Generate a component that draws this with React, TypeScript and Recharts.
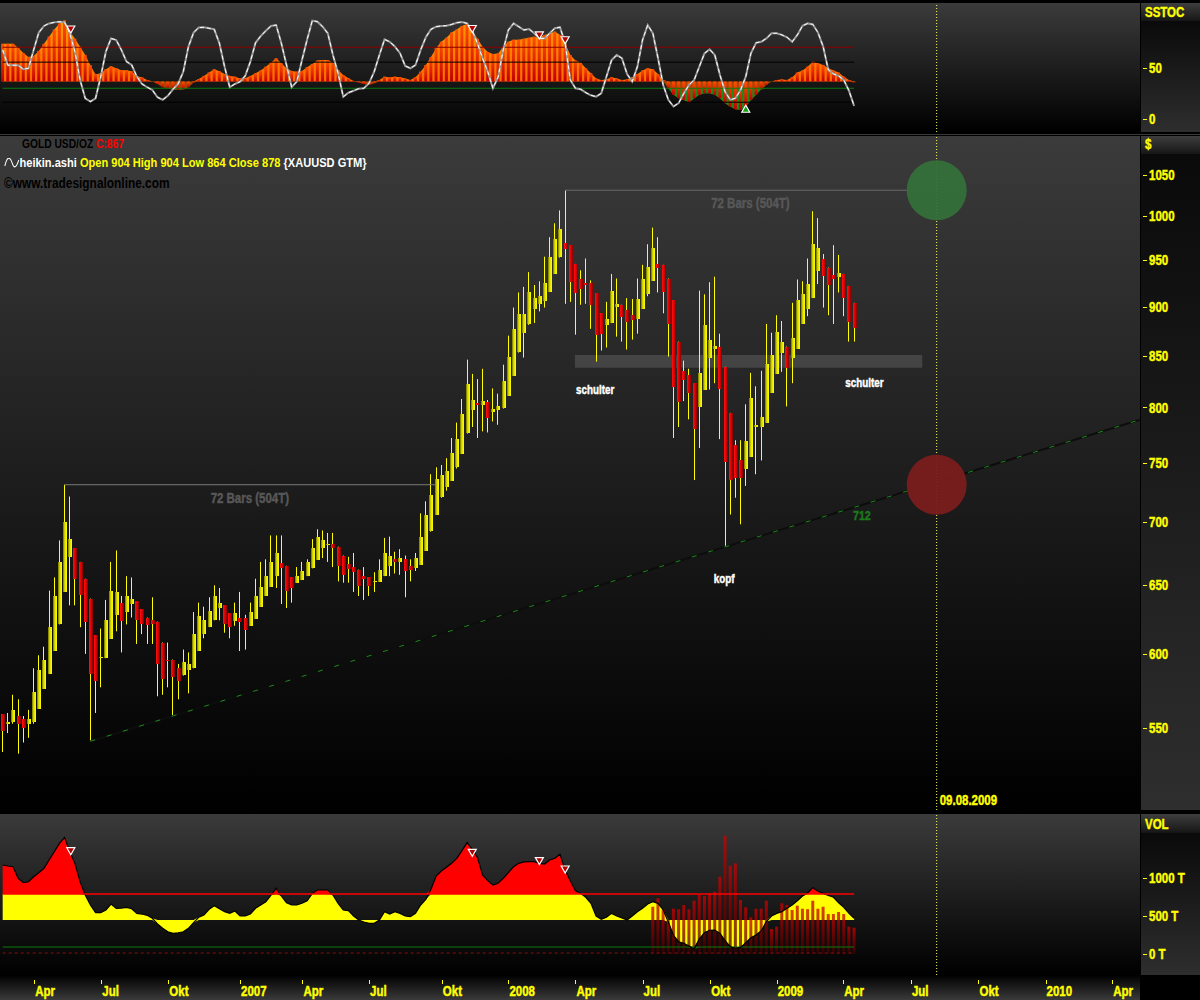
import React from 'react';
import {
  ComposedChart, Bar, Area, Line, XAxis, YAxis, ReferenceLine, ReferenceArea, ReferenceDot, Cell,
} from 'recharts';

// Arial-metric bold, squeezed horizontally to look like the narrow chart font
const FONT = "'Liberation Sans', Arial, sans-serif";
const SQ = 0.82;
const YEL = '#ffff00';

// weekly heikin-ashi candles, gold USD/oz, Feb 2006 - Apr 2009
const opens = [
  559, 553, 554, 558, 556, 553, 554, 563, 576, 586, 602, 621, 645, 672, 679, 668, 655, 640, 613, 597,
  597, 611, 628, 637, 630, 636, 638, 632, 626, 624, 623, 608, 596, 596, 590, 585, 589, 590, 602, 614,
  619, 624, 633, 635, 629, 623, 626, 626, 620, 625, 634, 642, 649, 657, 667, 665, 656, 652, 654, 657,
  663, 670, 679, 681, 682, 680, 673, 666, 664, 662, 657, 656, 652, 653, 657, 665, 670, 668, 670, 665,
  663, 666, 677, 692, 706, 720, 729, 735, 746, 758, 776, 798, 804, 802, 805, 796, 797, 799, 811, 830,
  853, 872, 881, 897, 903, 906, 916, 935, 953, 969, 967, 946, 930, 925, 925, 914, 893, 881, 883, 900,
  902, 896, 891, 887, 898, 914, 928, 946, 945, 930, 907, 864, 835, 831, 823, 801, 817, 848, 857, 859,
  839, 795, 766, 752, 744, 755, 782, 782, 786, 814, 832, 853, 859, 848, 857, 882, 897, 909, 938, 952,
  942, 934, 932, 935, 922, 904,
];
const highs = [
  559, 560, 572, 569, 558, 562, 590, 599, 605, 646, 656, 685, 731, 721, 679, 668, 655, 640, 613, 618,
  639, 668, 677, 642, 657, 656, 638, 632, 626, 641, 623, 608, 608, 596, 593, 603, 601, 630, 637, 634,
  641, 650, 648, 635, 629, 637, 645, 628, 637, 655, 668, 670, 689, 689, 689, 665, 656, 664, 668, 670,
  686, 694, 693, 691, 691, 680, 673, 672, 675, 662, 664, 656, 660, 670, 687, 688, 676, 678, 673, 670,
  675, 707, 717, 740, 746, 748, 754, 772, 786, 808, 846, 832, 827, 837, 807, 818, 813, 841, 870, 899,
  915, 921, 937, 923, 927, 954, 976, 992, 1007, 1031, 967, 946, 939, 952, 928, 914, 893, 905, 935, 930,
  902, 909, 908, 930, 945, 968, 987, 976, 945, 930, 907, 864, 845, 837, 823, 917, 913, 926, 932, 872,
  839, 795, 770, 770, 803, 833, 820, 835, 882, 873, 891, 885, 859, 904, 929, 927, 952, 1006, 998, 957,
  942, 967, 956, 935, 922, 904,
];
const lows = [
  535, 547, 553, 534, 541, 544, 553, 563, 576, 586, 602, 621, 645, 635, 635, 619, 600, 542, 560, 577,
  597, 611, 616, 601, 621, 626, 607, 614, 607, 607, 571, 572, 577, 558, 569, 585, 573, 590, 602, 611,
  619, 624, 624, 615, 611, 620, 602, 603, 620, 625, 634, 642, 649, 648, 636, 633, 637, 652, 654, 657,
  663, 670, 671, 668, 664, 653, 652, 652, 645, 642, 639, 642, 645, 653, 657, 657, 659, 658, 641, 653,
  661, 666, 677, 692, 706, 720, 726, 735, 745, 758, 776, 782, 772, 778, 777, 787, 784, 799, 811, 830,
  853, 848, 881, 883, 895, 899, 916, 935, 953, 903, 905, 871, 902, 903, 877, 844, 855, 858, 883, 869,
  864, 856, 866, 872, 898, 911, 928, 915, 893, 849, 772, 782, 806, 789, 735, 763, 817, 817, 823, 771,
  680, 706, 720, 698, 730, 755, 740, 752, 786, 814, 832, 834, 801, 823, 857, 882, 890, 909, 924, 899,
  891, 882, 915, 890, 864, 864,
];
const closes = [
  548, 554, 562, 553, 550, 556, 574, 589, 596, 619, 642, 668, 700, 686, 655, 643, 623, 586, 581, 598,
  624, 646, 645, 624, 642, 640, 624, 621, 621, 621, 593, 583, 595, 584, 581, 594, 593, 614, 627, 624,
  631, 642, 637, 621, 619, 629, 623, 617, 630, 642, 649, 657, 668, 675, 663, 646, 648, 657, 661, 668,
  679, 688, 685, 682, 679, 665, 658, 662, 660, 650, 655, 649, 653, 662, 675, 673, 668, 671, 661, 662,
  671, 688, 706, 722, 736, 739, 743, 759, 771, 794, 822, 807, 802, 806, 790, 799, 801, 825, 849, 877,
  892, 892, 915, 909, 911, 925, 954, 974, 985, 962, 926, 914, 919, 923, 902, 870, 871, 887, 917, 903,
  889, 884, 886, 908, 930, 943, 964, 942, 916, 882, 819, 806, 826, 814, 780, 833, 881, 866, 860, 818,
  751, 735, 737, 736, 769, 809, 784, 791, 842, 851, 874, 864, 838, 868, 907, 913, 924, 968, 964, 933,
  924, 930, 936, 909, 884, 878,
];

// SSTOC panel
const sstocHist = [
  74, 74, 74, 70, 65, 61, 62, 67, 74, 81, 88, 94, 97, 86, 79, 71, 63, 53, 44, 45,
  49, 52, 50, 48, 48, 47, 42.5, 41, 38.5, 37.3, 34.6, 31.4, 30.4, 29.4, 28.7, 29.4, 31.4, 36, 39.5, 42.5,
  45.8, 49, 47, 44.3, 42.5, 41.8, 39.9, 40.2, 42.5, 45, 47.8, 51.6, 55.6, 59.8, 54.9, 50, 47.4, 46.7, 47.4, 51,
  54.2, 57.5, 58, 58, 55.6, 48.4, 43.4, 40.2, 37.6, 36, 34.6, 33.6, 35.3, 38.5, 41.8, 41, 41.8, 41.2, 39.9, 38.5,
  41.2, 46.7, 53.2, 61, 69.6, 76, 80, 85, 88, 91.5, 93.5, 87, 79, 71, 66, 64, 64.6, 71, 76, 78,
  78, 79, 80, 81, 80, 82.7, 84, 86, 82.7, 74.5, 63, 57.5, 55.6, 50, 45, 40, 38.5, 39, 41.2, 40,
  38.5, 39, 41.2, 44.3, 47.8, 50, 49, 44.3, 38.5, 30.4, 24, 20.7, 19, 16.4, 20.7, 24, 25.6, 25.6, 24, 20.7,
  15.8, 12.5, 9.9, 9.2, 12.5, 19, 24, 29.4, 33.6, 36.9, 38.5, 39, 38.5, 41.2, 45.8, 47.8, 51.6, 56.5, 54.9, 53.2,
  50, 47.8, 45.8, 41.8, 38.5, 36,
];
const sstocLine = [
  68, 53, 53, 53, 49, 50, 68, 85, 91.5, 94, 95, 95.7, 95, 84.3, 66.3, 38.5, 20.5, 17.3, 20.5, 41.8,
  66.3, 79.3, 77.7, 68, 56.5, 53.2, 41.8, 34.6, 31.4, 28.7, 21.6, 19, 22.9, 29.4, 34.6, 46.7, 71.3, 85, 89.9, 90.2,
  89.2, 88.2, 74.5, 51.6, 31.4, 34.6, 36.9, 42.5, 56.5, 75, 81.6, 86.8, 91.5, 92.4, 74.5, 53.2, 31.4, 36.9, 58, 78.3,
  96.7, 95.7, 90.8, 84.3, 63, 45, 22, 26, 28, 30, 30.4, 35.3, 46.7, 63, 78.3, 76, 71.3, 64.8, 52.3, 50,
  53.2, 68, 80.4, 88.2, 90.8, 91.5, 91.8, 93, 94.7, 95.3, 94, 86.9, 74.5, 59.8, 46.7, 30.4, 41.2, 68, 87.5, 94,
  90.8, 87.5, 88.5, 84.3, 79.3, 79.3, 84.3, 89.2, 90.2, 74.5, 38.5, 30.4, 29.4, 26.1, 23.5, 22.2, 25.4, 41.8, 58, 63,
  59.8, 44.3, 36.9, 51.6, 77.7, 92.4, 84.3, 59.8, 33.6, 19, 12.5, 15.8, 25.4, 33.6, 38.5, 51.6, 64.6, 68.6, 63, 43.4,
  27, 19, 20.6, 28.7, 41.8, 64.6, 75, 76, 79.3, 84.3, 84.3, 82.7, 80.4, 76, 82.7, 91.6, 94, 93, 85, 71.3,
  48.4, 44.5, 42.5, 38.5, 28, 13,
];

// VOL panel (thousands)
const volOsc = [
  1171, 1158, 1149, 996, 938, 951, 1017, 1070, 1127, 1237, 1346, 1456, 1535, 1346, 1193, 951, 776, 645, 544, 544,
  579, 658, 601, 605, 614, 596, 535, 526, 509, 470, 395, 338, 293, 272, 280, 293, 338, 412, 483, 513,
  588, 636, 596, 557, 535, 566, 500, 500, 526, 601, 645, 688, 776, 864, 763, 675, 645, 645, 667, 701,
  798, 842, 842, 842, 776, 667, 579, 570, 500, 447, 421, 404, 404, 447, 557, 526, 557, 535, 500, 491,
  535, 645, 720, 851, 1026, 1092, 1141, 1193, 1259, 1360, 1465, 1377, 1272, 1039, 965, 908, 930, 996, 1070, 1149,
  1193, 1211, 1215, 1215, 1193, 1184, 1237, 1259, 1312, 1105, 965, 833, 798, 746, 667, 500, 456, 483, 535, 500,
  474, 447, 500, 557, 601, 658, 688, 667, 579, 421, 246, 162, 141, 105, 62, 201, 280, 312, 316, 272,
  175, 96, 75, 88, 149, 214, 250, 307, 425, 500, 535, 557, 601, 645, 701, 763, 807, 873, 825, 798,
  772, 746, 675, 614, 535, 470,
];
const volBarsStart = 126;
const volBars = [
  622, 733, 579, 447, 596, 588, 645, 588, 701, 776, 763, 798, 820, 1017, 1557, 1162, 1193, 711, 614, 483,
  596, 596, 701, 329, 360, 667, 645, 579, 636, 596, 590, 701, 596, 622, 526, 526, 553, 526, 360, 346,
];

const tickWeeks = [6.1, 19.1, 32.1, 46, 58.1, 71, 85.1, 98, 111, 124, 137.1, 150, 162.9, 176, 189.1, 202.1, 215];
const tickLabels = ['Apr', 'Jul', 'Okt', '2007', 'Apr', 'Jul', 'Okt', '2008', 'Apr', 'Jul', 'Okt', '2009', 'Apr', 'Jul', 'Okt', '2010', 'Apr'];
const priceTicks = [550, 600, 650, 700, 750, 800, 850, 900, 950, 1000, 1050];
const sstocTicks = [0, 50];
const volTicks = [0, 500, 1000];

const X_DOMAIN: [number, number] = [-0.52, 220.4];
const CUT = 181;
const LAST = 165;
const HIST_BASE = 37;
const HIST_GREEN = 30;
const VOL_BASE = 447;
const VOL_RED = 790;
const VOL_GREEN = 92;

const candles = opens.map((o, t) => ({
  t,
  wick: [lows[t], highs[t]],
  body: [Math.min(o, closes[t]), Math.max(o, closes[t])],
  up: closes[t] >= o,
}));

const sstocRows = sstocHist.map((h, t) => ({
  t,
  hist: [Math.min(h, HIST_BASE), Math.max(h, HIST_BASE)],
  up: [HIST_BASE, Math.max(h, HIST_BASE)],
  dn: [Math.min(h, HIST_BASE), HIST_BASE],
  green: [Math.min(h, HIST_GREEN), HIST_GREEN],
  k: sstocLine[t],
}));

const clamp = (v: number, a: number, b: number) => Math.max(a, Math.min(b, v));
const volRows = volOsc.map((v, t) => ({
  t,
  osc: v,
  yelUp: [VOL_BASE, clamp(v, VOL_BASE, VOL_RED)],
  yelDn: [clamp(v, VOL_GREEN, VOL_BASE), VOL_BASE],
  red: [VOL_RED, Math.max(v, VOL_RED)],
  green: [Math.min(v, VOL_GREEN), VOL_GREEN],
  vol: t >= volBarsStart ? volBars[t - volBarsStart] : null,
}));

// narrow heavy svg text
const NText = ({ x, y, size, fill, anchor = 'start', dy, children }: any) => (
  <text transform={`translate(${x},${y}) scale(${SQ},1)`} textAnchor={anchor} dy={dy}
    fontFamily={FONT} fontWeight={700} fontSize={size} fill={fill} stroke={fill} strokeWidth={0.45}>{children}</text>
);

const makeRightTick = (suffix: string) => (props: any) => {
  const { x, y, payload } = props;
  const yy = Math.round(y) + 0.5;
  return (
    <g>
      <line x1={x + 3} x2={x + 7} y1={yy} y2={yy} stroke={YEL} />
      <NText x={x + 9} y={y} dy="0.36em" size={14} fill={YEL}>{`${payload.value}${suffix}`}</NText>
    </g>
  );
};

const DateTick = (props: any) => {
  const { x, y, payload, index } = props;
  let i = tickWeeks.indexOf(payload.value);
  if (i < 0) i = index;
  const xx = Math.round(x) + 0.5;
  return (
    <g>
      <line x1={xx} x2={xx} y1={y + 5} y2={y + 9} stroke={YEL} />
      <NText x={x + 1} y={y + 21} size={14} fill={YEL}>{tickLabels[i]}</NText>
    </g>
  );
};

const DownTri = (p: any) => (
  <path d={`M${p.cx - 4},${p.cy - 4} L${p.cx + 4},${p.cy - 4} L${p.cx},${p.cy + 3} Z`} fill="#b00000" stroke="#fff" strokeWidth={1.2} />
);
const UpTri = (p: any) => (
  <path d={`M${p.cx - 4},${p.cy + 4} L${p.cx + 4},${p.cy + 4} L${p.cx},${p.cy - 3} Z`} fill="#10a010" stroke="#fff" strokeWidth={1.2} />
);
const textShape = (label: string, color: string, size = 12, anchor: 'middle' | 'start' = 'middle') => (p: any) => (
  <NText x={anchor === 'start' ? p.cx + 3 : p.cx} y={p.cy} dy="0.35em" anchor={anchor} fill={color} size={size}>{label}</NText>
);

const SstocChart = () => (
  <ComposedChart width={1200} height={135} data={sstocRows} margin={{ top: 3, right: 0, bottom: 3, left: 0 }}>
    <defs>
      <linearGradient id="histArea" x1="0" y1="0" x2="0" y2="1">
        <stop offset="0" stopColor="#ff9a00" />
        <stop offset="1" stopColor="#ff6a00" />
      </linearGradient>
      <linearGradient id="histBar" x1="0" y1="0" x2="0" y2="1">
        <stop offset="0" stopColor="#ff5000" />
        <stop offset="1" stopColor="#c00000" />
      </linearGradient>
    </defs>
    <XAxis type="number" dataKey="t" domain={X_DOMAIN} hide allowDataOverflow />
    <YAxis orientation="right" width={60} domain={[-12.5, 114]} ticks={sstocTicks} allowDataOverflow
      axisLine={false} tickLine={false} tickSize={0} tickMargin={0} tick={makeRightTick('')} />
    <ReferenceLine segment={[{ x: 0, y: 70.6 }, { x: LAST, y: 70.6 }]} stroke="#8b0000" />
    <ReferenceLine segment={[{ x: 0, y: 56 }, { x: LAST, y: 56 }]} stroke="#000" />
    <ReferenceLine segment={[{ x: 0, y: 16.7 }, { x: LAST, y: 16.7 }]} stroke="#000" />
    <Area type="linear" dataKey="up" fill="url(#histArea)" fillOpacity={1} stroke="none" isAnimationActive={false} />
    <Area type="linear" dataKey="dn" fill="#a84800" fillOpacity={1} stroke="none" isAnimationActive={false} />
    <Area type="linear" dataKey="green" fill="#1a8a1a" fillOpacity={1} stroke="none" isAnimationActive={false} />
    <Bar dataKey="hist" barSize={3} fill="url(#histBar)" isAnimationActive={false} />
    <ReferenceLine segment={[{ x: 0, y: 30.4 }, { x: LAST, y: 30.4 }]} stroke="#0b7a0b" />
    <Line type="linear" dataKey="k" stroke="#9a9a9a" strokeWidth={2} dot={false} isAnimationActive={false} />
    <Line type="linear" dataKey="k" stroke="#ffffff" strokeWidth={1} strokeDasharray="4 3" dot={false} isAnimationActive={false} />
    <ReferenceDot x={13.2} y={87.5} r={4} shape={DownTri} />
    <ReferenceDot x={91} y={88} r={4} shape={DownTri} />
    <ReferenceDot x={104} y={81.7} r={4} shape={DownTri} />
    <ReferenceDot x={109} y={77} r={4} shape={DownTri} />
    <ReferenceDot x={144} y={10.8} r={4} shape={UpTri} />
    <ReferenceLine x={CUT} stroke="#ffff60" strokeDasharray="1 2" />
  </ComposedChart>
);

const MainChart = () => (
  <ComposedChart width={1200} height={680} data={candles} margin={{ top: 3, right: 0, bottom: 3, left: 0 }}>
    <defs>
      <linearGradient id="upBody" x1="0" y1="0" x2="1" y2="0">
        <stop offset="0" stopColor="#6e6e00" />
        <stop offset="0.45" stopColor="#dede00" />
        <stop offset="1" stopColor="#ffff00" />
      </linearGradient>
      <linearGradient id="dnBody" x1="0" y1="0" x2="1" y2="0">
        <stop offset="0" stopColor="#ff1010" />
        <stop offset="0.55" stopColor="#d80000" />
        <stop offset="1" stopColor="#7a0000" />
      </linearGradient>
    </defs>
    <XAxis type="number" dataKey="t" domain={X_DOMAIN} hide allowDataOverflow />
    <XAxis xAxisId="b" type="number" dataKey="t" domain={X_DOMAIN} hide allowDataOverflow />
    <YAxis orientation="right" width={60} scale="log" domain={[500, 1098.4]} ticks={priceTicks} allowDataOverflow
      axisLine={false} tickLine={false} tickSize={0} tickMargin={0} tick={makeRightTick('')} />
    <ReferenceLine segment={[{ x: 17, y: 541.8 }, { x: 220.4, y: 788.6 }]} stroke="#0d0d0d" strokeWidth={2} />
    <ReferenceLine segment={[{ x: 17, y: 541.8 }, { x: 220.4, y: 788.6 }]} stroke="#1c8a1c" strokeDasharray="5 12" />
    <ReferenceLine segment={[{ x: 12, y: 731 }, { x: 84, y: 731 }]} stroke="#7a7a7a" />
    <ReferenceLine segment={[{ x: 109, y: 1031 }, { x: CUT, y: 1031 }]} stroke="#6a6a6a" />
    <ReferenceDot x={47.9} y={719.6} r={0} shape={textShape('72 Bars (504T)', '#585858', 14)} />
    <ReferenceDot x={144.9} y={1015.8} r={0} shape={textShape('72 Bars (504T)', '#585858', 14)} />
    <Bar dataKey="wick" barSize={1} fill={YEL} isAnimationActive={false}
      shape={(p: any) => <rect x={Math.round(p.x + p.width / 2 - 0.5)} y={p.y} width={1} height={Math.max(1, p.height)} fill={YEL} />} />
    <Bar xAxisId="b" dataKey="body" barSize={4} isAnimationActive={false}
      shape={(p: any) => <rect x={Math.round(p.x)} y={Math.round(p.y)} width={4} height={Math.max(1, Math.round(p.height))} fill={p.fill} />}>
      {candles.map((c) => <Cell key={c.t} fill={c.up ? 'url(#upBody)' : 'url(#dnBody)'} />)}
    </Bar>
    <ReferenceArea x1={110.9} x2={178.2} y1={838} y2={850.6} fill="#707070" fillOpacity={0.4} stroke="none" />
    <ReferenceDot x={CUT} y={1031} r={30} fill="#35703a" fillOpacity={0.95} stroke="none" />
    <ReferenceDot x={CUT} y={731} r={30} fill="#7a1c1c" fillOpacity={0.95} stroke="none" />
    <ReferenceLine x={CUT} stroke="#ffff60" strokeDasharray="1 2" />
    <ReferenceDot x={114.8} y={817} r={0} shape={textShape('schulter', '#ffffff', 12)} />
    <ReferenceDot x={167} y={823} r={0} shape={textShape('schulter', '#ffffff', 12)} />
    <ReferenceDot x={139.8} y={655} r={0} shape={textShape('kopf', '#ffffff', 12)} />
    <ReferenceDot x={166.5} y={705} r={0} shape={textShape('712', '#1a7a1a', 13)} />
    <ReferenceDot x={CUT} y={506} r={0} shape={textShape('09.08.2009', YEL, 14, 'start')} />
  </ComposedChart>
);

const VolChart = () => (
  <ComposedChart width={1200} height={187} data={volRows} margin={{ top: 1, right: 0, bottom: 0, left: 0 }}>
    <defs>
      <linearGradient id="volBar" x1="0" y1="0" x2="0" y2="1">
        <stop offset="0" stopColor="#d00000" />
        <stop offset="1" stopColor="#3a0000" />
      </linearGradient>
    </defs>
    <XAxis type="number" dataKey="t" domain={X_DOMAIN} ticks={tickWeeks} allowDataOverflow height={25}
      axisLine={false} tickLine={false} tickSize={0} tickMargin={0} tick={DateTick} interval={0} />
    <YAxis orientation="right" width={60} domain={[-276, 1842]} ticks={volTicks} allowDataOverflow
      axisLine={false} tickLine={false} tickSize={0} tickMargin={0} tick={makeRightTick(' T')} />
    <ReferenceLine segment={[{ x: 0, y: 13 }, { x: LAST, y: 13 }]} stroke="#8a1010" strokeDasharray="3 3" />
    <ReferenceLine segment={[{ x: 0, y: VOL_GREEN }, { x: LAST, y: VOL_GREEN }]} stroke="#0b7a0b" />
    <Area type="linear" dataKey="yelUp" fill={YEL} fillOpacity={1} stroke="none" isAnimationActive={false} />
    <Area type="linear" dataKey="yelDn" fill={YEL} fillOpacity={1} stroke="none" isAnimationActive={false} />
    <Area type="linear" dataKey="red" fill="#ff0000" fillOpacity={1} stroke="none" isAnimationActive={false} />
    <Area type="linear" dataKey="green" fill="#129a12" fillOpacity={1} stroke="none" isAnimationActive={false} />
    <Line type="linear" dataKey="osc" stroke="#000" strokeWidth={1.2} dot={false} isAnimationActive={false} />
    <ReferenceLine segment={[{ x: 0, y: VOL_RED }, { x: LAST, y: VOL_RED }]} stroke="#ff0000" strokeWidth={1.5} />
    <Bar dataKey="vol" barSize={3} fill="url(#volBar)" fillOpacity={0.75} isAnimationActive={false} />
    <ReferenceDot x={13.2} y={1346} r={4} shape={DownTri} />
    <ReferenceDot x={91} y={1325} r={4} shape={DownTri} />
    <ReferenceDot x={104} y={1215} r={4} shape={DownTri} />
    <ReferenceDot x={109} y={1105} r={4} shape={DownTri} />
    <ReferenceLine x={CUT} stroke="#ffff60" strokeDasharray="1 2" />
  </ComposedChart>
);

const abs = (left: number, top: number, width: number, height: number, background: string): React.CSSProperties => ({
  position: 'absolute', left, top, width, height, background,
});
const plotBg = 'linear-gradient(to bottom, #3b3b3b, #000000)';
const axisBg = 'linear-gradient(to bottom, #0a0a0a, #2e2e2e)';
const headBg = 'linear-gradient(to bottom, #3e3e3e, #161616)';
const squeeze: React.CSSProperties = {
  position: 'absolute', fontFamily: FONT, fontWeight: 700, whiteSpace: 'nowrap',
  transform: `scaleX(${SQ})`, transformOrigin: 'left top',
};
const headText: React.CSSProperties = {
  ...squeeze, left: 1145, fontSize: 14, color: YEL, lineHeight: '16px', WebkitTextStroke: '0.4px #ffff00',
};
const legend: React.CSSProperties = { ...squeeze, lineHeight: '14px' };

export default function App() {
  return (
    <div style={{ position: 'absolute', left: 0, top: 0, width: 1200, height: 1000, background: '#000', overflow: 'hidden' }}>
      <div style={abs(0, 3, 1140, 129, plotBg)} />
      <div style={abs(1141, 3, 59, 18, headBg)} />
      <div style={abs(1141, 21, 59, 111, axisBg)} />
      <div style={abs(0, 134, 1200, 1, '#3a3a3a')} />
      <div style={abs(0, 136, 1140, 674, plotBg)} />
      <div style={abs(1141, 136, 59, 18, headBg)} />
      <div style={abs(1141, 154, 59, 656, axisBg)} />
      <div style={abs(0, 814, 1140, 161, plotBg)} />
      <div style={abs(1141, 814, 59, 19, headBg)} />
      <div style={abs(1141, 833, 59, 142, axisBg)} />
      <div style={abs(0, 975, 1140, 25, 'linear-gradient(to bottom, #000000, #3a3a3a)')} />

      <div style={{ ...headText, top: 4 }}>SSTOC</div>
      <div style={{ ...headText, top: 136 }}>$</div>
      <div style={{ ...headText, top: 816 }}>VOL</div>

      <div style={{ position: 'absolute', left: 0, top: 0 }}><SstocChart /></div>
      <div style={{ position: 'absolute', left: 0, top: 133 }}><MainChart /></div>
      <div style={{ position: 'absolute', left: 0, top: 813 }}><VolChart /></div>

      <div style={{ ...legend, left: 22, top: 137, fontSize: 12.5, color: '#000' }}>
        GOLD USD/OZ <span style={{ color: '#ff0000' }}>C:867</span>
      </div>
      <div style={{ ...legend, left: 4, top: 156, fontSize: 13.5 }}>
        <svg width={19} height={10} style={{ verticalAlign: 'middle' }}>
          <path d="M1 8 C4 -2 7 -2 10 5 C12 11 15 10 18 2" stroke="#fff" strokeWidth={1.2} fill="none" />
        </svg>
        <span style={{ color: '#fff' }}>heikin.ashi </span>
        <span style={{ color: YEL }}>Open 904 High 904 Low 864 Close 878 </span>
        <span style={{ color: '#fff' }}>{'{XAUUSD GTM}'}</span>
      </div>
      <div style={{ ...legend, left: 4, top: 176, fontSize: 14.5, color: '#000' }}>©www.tradesignalonline.com</div>
    </div>
  );
}
